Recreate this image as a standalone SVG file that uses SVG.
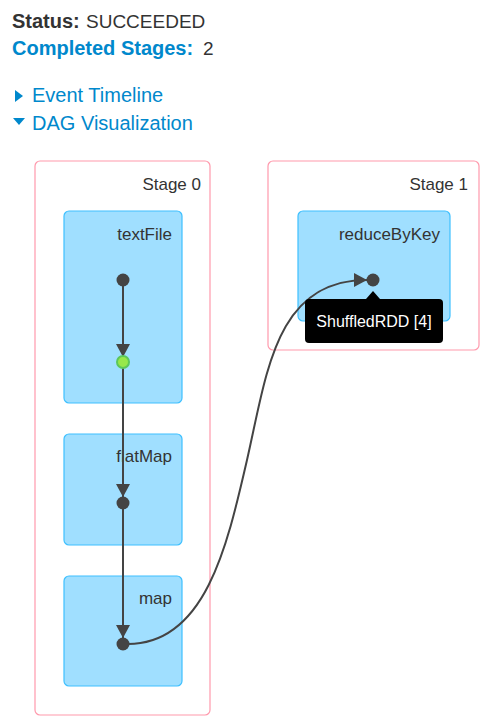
<svg xmlns="http://www.w3.org/2000/svg" width="499" height="727" viewBox="0 0 499 727">
<style>
text{font-family:"Liberation Sans",Arial,sans-serif;}
.hdr{font-size:19px;fill:#333;}
.b{font-weight:bold;font-size:20px;}
.lnk{font-size:20px;fill:#0088cc;}
.stage rect{fill:#fff;stroke:#ff99ac;stroke-width:1.2;}
.op rect{fill:#a0dfff;stroke:#3ec0ff;stroke-width:1.2;}
.lbl{font-size:17px;fill:#333;text-anchor:end;}
.node{fill:#444;}
.edge{fill:none;stroke:#444;stroke-width:2;}
</style>
<defs>
<marker id="arr" markerUnits="userSpaceOnUse" markerWidth="14" markerHeight="14" refX="13" refY="7" orient="auto" viewBox="0 0 14 14">
<path d="M0,0 L13,7 L0,14 Z" fill="#444"/>
</marker>
</defs>
<g id="header">
<text class="hdr" x="12" y="28"><tspan class="b">Status:</tspan><tspan x="86">SUCCEEDED</tspan></text>
<text class="hdr" x="12" y="55"><tspan class="b" fill="#0088cc">Completed Stages:</tspan><tspan x="203">2</tspan></text>
<path d="M15,90 L23,96 L15,102 Z" fill="#0088cc"/>
<text class="lnk" x="32" y="102">Event Timeline</text>
<path d="M13,118 L25,118 L19,125 Z" fill="#0088cc"/>
<text class="lnk" x="32" y="130">DAG Visualization</text>
</g>
<g id="stage0" class="stage">
<rect x="35" y="161" width="175" height="554" rx="5"/>
<text class="lbl" x="201" y="190">Stage 0</text>
</g>
<g id="stage1" class="stage">
<rect x="268" y="161" width="211" height="189" rx="5"/>
<text class="lbl" x="468" y="190">Stage 1</text>
</g>
<g id="textFile" class="op">
<rect x="64" y="211" width="118" height="192" rx="5"/>
<text class="lbl" x="172" y="240">textFile</text>
</g>
<g id="flatMap" class="op">
<rect x="64" y="434" width="118" height="111" rx="5"/>
<text class="lbl" x="172" y="462">flatMap</text>
</g>
<g id="map" class="op">
<rect x="64" y="576" width="118" height="110" rx="5"/>
<text class="lbl" x="172" y="604">map</text>
</g>
<g id="reduceByKey" class="op">
<rect x="298" y="211" width="152" height="110" rx="5"/>
<text class="lbl" x="440" y="240">reduceByKey</text>
</g>
<g id="connectors">
<path class="edge" d="M123,286 L123,357" marker-end="url(#arr)"/>
<path class="edge" d="M123,368 L123,497" marker-end="url(#arr)"/>
<path class="edge" d="M123,509 L123,638" marker-end="url(#arr)"/>
<path class="edge" d="M128,644 C205,644 227,547 247,460 C267,373 275,280 367,280" marker-end="url(#arr)"/>
</g>
<g id="nodes">
<circle id="n-textfile" class="node" cx="123" cy="280" r="6.5"/>
<circle id="n-cached" cx="123" cy="362" r="6" fill="#97e84a" stroke="#5cc75a" stroke-width="2"/>
<circle id="n-flatmap" class="node" cx="123" cy="503" r="6.5"/>
<circle id="n-map" class="node" cx="123" cy="644" r="6.5"/>
<circle id="n-shuffled" class="node" cx="373" cy="280" r="6.5"/>
</g>
<g id="tooltip">
<path d="M366,299 L373,291 L380,299 Z" fill="#000"/>
<rect x="305" y="299" width="138" height="44" rx="4" fill="#000"/>
<text x="374" y="327" font-size="16" fill="#fff" text-anchor="middle">ShuffledRDD [4]</text>
</g>
</svg>
